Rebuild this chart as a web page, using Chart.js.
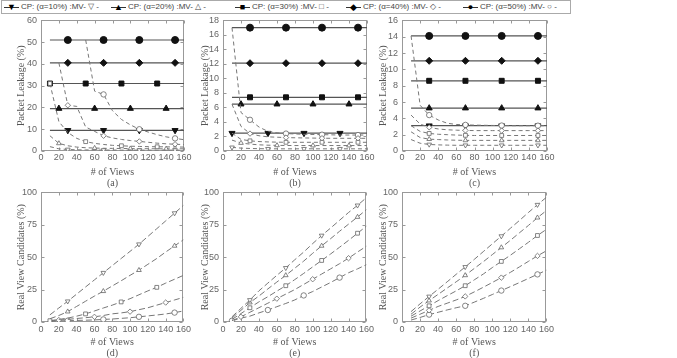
<!DOCTYPE html>
<html>
<head>
<meta charset="utf-8">
<script src="https://cdn.jsdelivr.net/npm/chart.js@4/dist/chart.umd.min.js"></script>
<style>
  body { margin: 0; width: 677px; height: 358px; overflow: hidden; background: #fff; position: relative;
         font-family: "Liberation Sans", Arial, sans-serif; }
  canvas { position: absolute; }
  #legend { position: absolute; left: 1px; top: 0; width: 568px; height: 12px; border: 1px solid #aaa; color: #444; font-size: 8px; }
  .item { position: absolute; top: 0; height: 12px; line-height: 12px; white-space: nowrap; }
  .seg { position: absolute; top: 6px; width: 15px; border-top: 1px solid #333; }
  .mk { position: absolute; top: 0; width: 15px; text-align: center; font-size: 9px; color: #000; }
  .txt { position: absolute; left: 17px; top: 0; }
</style>
</head>
<body>
<div id="legend"></div>
<canvas id="ca"></canvas>
<canvas id="cb"></canvas>
<canvas id="cc"></canvas>
<canvas id="cd"></canvas>
<canvas id="ce"></canvas>
<canvas id="cf"></canvas>
<script>
// x values (# of views)
const views = [10, 20, 30, 40, 50, 60, 70, 80, 90, 100, 110, 120, 130, 140, 150, 160];
const alphas = [10, 20, 30, 40, 50];

// packet leakage (%) - CP levels per alpha
const cpA = [9.5, 19.5, 31, 40.5, 51];
const cpB = [2.46, 6.45, 7.4, 12.1, 17.0];
const cpC = [3.1, 5.25, 8.6, 11.05, 14.1];

// packet leakage (%) - MV curves
const mvA10 = [2.0, 1.0, 0.7, 0.55, 0.5, 0.45, 0.45, 0.42, 0.4, 0.4, 0.4, 0.4, 0.4, 0.4, 0.4, 0.4];
const mvA20 = [7, 3.5, 2.4, 1.8, 1.5, 1.35, 1.25, 1.2, 1.15, 1.1, 1.05, 1.05, 1.0, 1.0, 1.0, 1.0];
const mvA30 = [31, 13.5, 8.5, 5.8, 4.3, 3.5, 3.0, 2.6, 2.4, 2.2, 2.1, 2.0, 1.95, 1.9, 1.85, 1.8];
const mvA40 = [null, 40.5, 21, 20.5, 11, 9, 7, 6, 5.3, 4.8, 4.4, 4.0, 3.6, 3.3, 3.1, 2.95];
const mvA50 = [null, null, null, null, 51, 27.5, 26, 18.5, 14.5, 12, 10, 8.7, 7.5, 6.5, 5.8, 5.2];

const mvB10 = [0.5, 0.4, 0.35, 0.32, 0.3, 0.3, 0.3, 0.3, 0.3, 0.3, 0.3, 0.3, 0.3, 0.3, 0.3, 0.3];
const mvB20 = [1.5, 1.1, 0.95, 0.85, 0.8, 0.78, 0.76, 0.75, 0.75, 0.75, 0.75, 0.75, 0.75, 0.75, 0.75, 0.75];
const mvB30 = [2.46, 1.6, 1.4, 1.3, 1.25, 1.22, 1.2, 1.2, 1.2, 1.2, 1.2, 1.2, 1.2, 1.2, 1.2, 1.2];
const mvB40 = [6.45, 3.4, 2.4, 2.1, 1.95, 1.9, 1.85, 1.82, 1.8, 1.78, 1.76, 1.75, 1.75, 1.75, 1.75, 1.75];
const mvB50 = [17, 5.3, 4.3, 3.3, 2.7, 2.5, 2.4, 2.35, 2.3, 2.28, 2.25, 2.23, 2.2, 2.2, 2.2, 2.2];

const mvC10 = [1.4, 0.95, 0.8, 0.75, 0.72, 0.7, 0.7, 0.7, 0.7, 0.7, 0.7, 0.7, 0.7, 0.7, 0.7, 0.7];
const mvC20 = [2.35, 1.65, 1.45, 1.4, 1.35, 1.32, 1.3, 1.3, 1.3, 1.3, 1.3, 1.3, 1.3, 1.3, 1.3, 1.3];
const mvC30 = [3.1, 2.4, 2.15, 2.05, 2.0, 1.95, 1.92, 1.9, 1.9, 1.9, 1.9, 1.9, 1.9, 1.9, 1.9, 1.9];
const mvC40 = [4.4, 3.3, 2.9, 2.7, 2.6, 2.55, 2.52, 2.5, 2.5, 2.5, 2.5, 2.5, 2.5, 2.5, 2.5, 2.5];
const mvC50 = [14.1, 5.6, 4.4, 3.8, 3.4, 3.25, 3.2, 3.17, 3.15, 3.13, 3.12, 3.1, 3.1, 3.1, 3.1, 3.1];

// real view candidates (%)
const mvD10 = [5.5, 10.8, 16, 21.5, 27, 32.5, 38, 43.5, 49, 54.5, 60, 66, 72, 78, 84, 90];
const mvD20 = [2.5, 5, 8, 12, 16, 20, 23.75, 27.8, 31.8, 36, 40, 44.5, 49, 54, 58.75, 63.5];
const mvD30 = [1, 2, 3, 4.5, 6.25, 8.5, 10.8, 13, 15.5, 18, 21, 24, 26.75, 30, 33, 36];
const mvD40 = [0.8, 1.5, 2, 2.7, 3.3, 4, 5, 6.3, 7, 8, 9.5, 11, 13, 15, 17, 19];
const mvD50 = [0.5, 0.8, 1, 1.2, 1.4, 1.6, 2, 2.3, 2.8, 3.3, 4, 4.7, 5.4, 6.2, 7.25, 8.5];

const mvE10 = [4, 10.5, 17, 24, 30, 36, 41.75, 48, 54, 60.5, 66.75, 72.5, 78.5, 84.5, 90, 96];
const mvE20 = [3, 9, 15, 20, 25.5, 30.8, 36, 41.5, 47, 53, 58.75, 64.3, 70, 75.5, 81, 86.75];
const mvE30 = [2, 6.5, 11, 15.5, 19.5, 23.8, 28, 32.7, 37.5, 42.5, 47.5, 52.5, 57.7, 63, 68.5, 74];
const mvE40 = [1, 4, 7.5, 11, 14.5, 18, 21.5, 25, 29, 33, 37, 41, 45, 49.25, 54, 58.5];
const mvE50 = [1, 3, 4.5, 7, 9.25, 11.8, 14.3, 17, 20.5, 23.5, 27, 30.5, 34.25, 38, 41, 44.25];

const mvF10 = [8, 14, 19.7, 25.3, 31, 36.8, 42.5, 48.3, 54.3, 60.3, 66.25, 72.3, 78.3, 84.5, 90.5, 96.25];
const mvF20 = [6, 11.5, 16.5, 21.3, 26.2, 31, 36, 41.3, 46.5, 52, 57.5, 63, 68.8, 74.5, 80.5, 86];
const mvF30 = [4.5, 8.5, 12.5, 16.5, 20.3, 24, 28, 32.5, 37, 42, 46.75, 51.5, 56.5, 61.5, 66.75, 71.5];
const mvF40 = [3, 6, 9, 12, 14.5, 17, 19.75, 23.2, 26.8, 30.5, 34.25, 38.3, 42.5, 46.8, 51, 55];
const mvF50 = [1.5, 3.5, 5.7, 7.5, 9.3, 11, 12.5, 15.3, 18.2, 21.2, 24.25, 27.3, 30.4, 33.6, 36.75, 40];

// where the markers sit on each curve
const m10 = [10, 50, 90, 130], m20 = [20, 60, 100, 140], m30 = [30, 70, 110, 150];
const marksA = [m30, m20, m10, m30, m30];
const marksB = [m10, m20, m30, m30, m30];
const marksC = [m30, m30, m30, m30, m30];
const marksD = [m30, m30, m10, m20, m30];
const marksE = [m30, m30, m30, m20, m10];
const marksF = [m30, m30, m30, m30, m30];

const cpStyles = ['triangle', 'triangle', 'rect', 'rectRot', 'circle'];
const cpRot = [180, 0, 0, 0, 0];
const cpGlyphs = ['\u25BC', '\u25B2', '\u25A0', '\u25C6', '\u25CF'];
const mvGlyphs = ['\u25BD', '\u25B3', '\u25A1', '\u25C7', '\u25CB'];
const legendX = [2, 109, 233, 344, 461];

// legend
const lg = document.getElementById('legend');
alphas.forEach((a, i) => {
  const it = document.createElement('div');
  it.className = 'item';
  it.style.left = legendX[i] + 'px';
  it.innerHTML = '<span class="seg"></span><span class="mk">' + cpGlyphs[i] + '</span>' +
    '<span class="txt">CP: (\u03B1=' + a + '%) :MV- ' + mvGlyphs[i] + ' -</span>';
  lg.appendChild(it);
});

// box around the plot with inward ticks, like the original
const boxTicks = {
  id: 'boxTicks',
  beforeDatasetsDraw(chart) {
    const {ctx, chartArea: a, scales: {x, y}} = chart;
    const L = Math.round(a.left) + 0.5, R = Math.round(a.right) - 0.5;
    const T = Math.round(a.top) + 0.5, B = Math.round(a.bottom) - 0.5;
    ctx.save();
    ctx.strokeStyle = '#999';
    ctx.lineWidth = 1;
    ctx.strokeRect(L, T, R - L, B - T);
    ctx.beginPath();
    x.ticks.forEach(t => {
      const px = Math.round(x.getPixelForValue(t.value)) + 0.5;
      ctx.moveTo(px, B); ctx.lineTo(px, B - 3);
      ctx.moveTo(px, T); ctx.lineTo(px, T + 3);
    });
    y.ticks.forEach(t => {
      const py = Math.round(y.getPixelForValue(t.value)) + 0.5;
      ctx.moveTo(L, py); ctx.lineTo(L + 3, py);
      ctx.moveTo(R, py); ctx.lineTo(R - 3, py);
    });
    ctx.stroke();
    ctx.restore();
  }
};

function series(vals, i, marks, filled, dash) {
  return {
    data: views.map((v, k) => ({x: v, y: vals[k]})),
    borderColor: filled ? '#555' : '#777',
    borderWidth: filled ? 1.2 : 1,
    borderDash: filled ? [] : dash,
    pointStyle: cpStyles[i],
    pointRotation: cpRot[i],
    pointBackgroundColor: filled ? '#111' : '#fff',
    pointBorderColor: filled ? '#111' : '#666',
    pointBorderWidth: filled ? 1 : 0.8,
    pointRadius: c => marks[i].includes(views[c.dataIndex]) ? (filled ? 3.5 : 2.7) : 0,
    fill: false,
    tension: 0
  };
}

function makeChart(id, pos, yMax, yStep, yTitle, sub, datasets) {
  const cv = document.getElementById(id);
  cv.width = pos.w; cv.height = pos.h;
  cv.style.left = pos.l + 'px'; cv.style.top = pos.t + 'px';
  new Chart(cv, {
    type: 'line',
    data: {datasets},
    options: {
      responsive: false,
      animation: false,
      events: [],
      layout: {padding: {top: 6, right: 9, bottom: 0, left: 0}},
      plugins: {legend: {display: false}, tooltip: {enabled: false}},
      scales: {
        x: {
          type: 'linear', min: 0, max: 160,
          grid: {display: false, drawTicks: false}, border: {display: false},
          ticks: {stepSize: 20, padding: pos.tp, color: '#666', maxRotation: 0, autoSkip: false,
                  font: {family: 'Liberation Sans', size: 9}},
          title: {display: true, text: ['# of Views', sub], color: '#555',
                  font: {family: 'Liberation Serif', size: 10, lineHeight: 1.1},
                  padding: {top: 0, bottom: pos.pb}},
          afterFit: s => { s.height = 40; }
        },
        y: {
          type: 'linear', min: 0, max: yMax,
          grid: {display: false, drawTicks: false}, border: {display: false},
          ticks: {stepSize: yStep, padding: 4, color: '#666', font: {family: 'Liberation Sans', size: 9}},
          title: {display: true, text: yTitle, color: '#555',
                  font: {family: 'Liberation Serif', size: 10, lineHeight: 1.1},
                  padding: {top: pos.yp, bottom: 0}},
          afterFit: s => { s.width = 40; }
        }
      }
    },
    plugins: [boxTicks]
  });
}

// MV curves listed first so their hollow markers sit on top of the CP lines
function topSets(cp, mv, marks) {
  const mvSets = mv.map((vals, i) => series(vals, i, marks, false, [4, 3]));
  return mvSets.concat(cp.map((lv, i) => series(views.map(() => lv), i, marks, true)));
}
function bottomSets(mv, marks) {
  return mv.map((vals, i) => series(vals, i, marks, false, [6, 3]));
}

const colL = [1, 183, 362], colW = [192, 193, 194], colYp = [15.2, 16.5, 15.8];
const topPos = k => ({l: colL[k], t: 11, w: colW[k], h: 180, pb: 2.2, tp: 1, yp: colYp[k]});
const botPos = k => ({l: colL[k], t: 183, w: colW[k], h: 179, pb: 3.5, tp: 2, yp: colYp[k]});

makeChart('ca', topPos(0), 60, 10, 'Packet Leakage (%)', '(a)',
  topSets(cpA, [mvA10, mvA20, mvA30, mvA40, mvA50], marksA));
makeChart('cb', topPos(1), 18, 2, 'Packet Leakage (%)', '(b)',
  topSets(cpB, [mvB10, mvB20, mvB30, mvB40, mvB50], marksB));
makeChart('cc', topPos(2), 16, 2, 'Packet Leakage (%)', '(c)',
  topSets(cpC, [mvC10, mvC20, mvC30, mvC40, mvC50], marksC));
makeChart('cd', botPos(0), 100, 25, 'Real View Candidates (%)', '(d)',
  bottomSets([mvD10, mvD20, mvD30, mvD40, mvD50], marksD));
makeChart('ce', botPos(1), 100, 25, 'Real View Candidates (%)', '(e)',
  bottomSets([mvE10, mvE20, mvE30, mvE40, mvE50], marksE));
makeChart('cf', botPos(2), 100, 25, 'Real View Candidates (%)', '(f)',
  bottomSets([mvF10, mvF20, mvF30, mvF40, mvF50], marksF));
</script>
</body>
</html>
